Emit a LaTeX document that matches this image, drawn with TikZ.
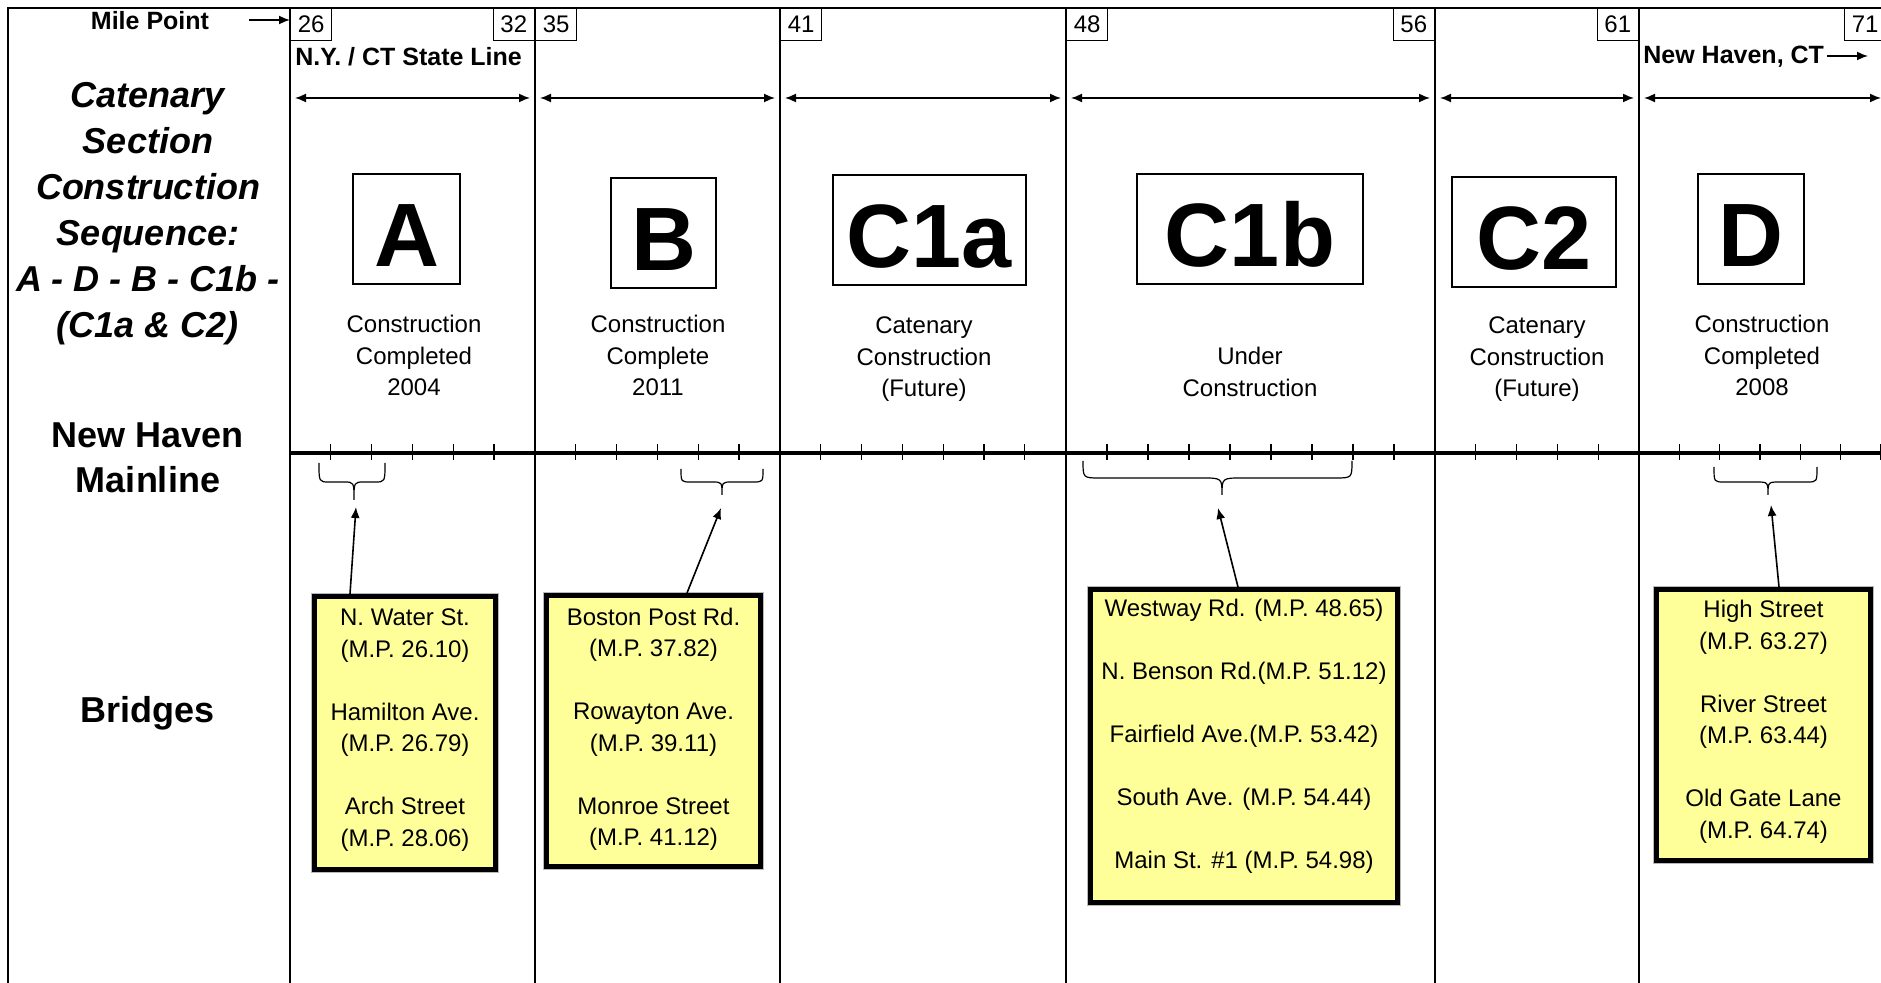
\documentclass[tikz,border=0pt]{standalone}
\usepackage{fontspec}
\setmainfont{Liberation Sans}
\usetikzlibrary{arrows.meta}
\definecolor{bridgeyellow}{RGB}{255,255,153}
\tikzset{
  frame/.style={line width=1pt},
  mpbox/.style={draw, line width=0.7pt, minimum width=20.5pt, minimum height=16pt, inner sep=0pt, font=\fontsize{12}{14}\selectfont},
  boldlbl/.style={inner sep=0pt, font=\fontsize{12.5}{15}\selectfont\bfseries},
  sidettl/.style={align=center, inner sep=0pt, font=\fontsize{18}{23}\selectfont\bfseries},
  secbox/.style={draw, line width=0.6pt, minimum height=55pt, inner sep=0pt, text height=38pt, text depth=0pt,
    font=\fontsize{45}{45}\selectfont\bfseries},
  status/.style={align=center, inner sep=0pt, font=\fontsize{12}{15.75}\selectfont},
  bridgebox/.style={draw, fill=bridgeyellow, line width=2.4pt, align=center, inner sep=0pt,
    font=\fontsize{12}{15.75}\selectfont, preaction={draw=gray!55, line width=3.6pt}},
  dimarrow/.style={{Latex[length=5.5pt,width=4.5pt]}-{Latex[length=5.5pt,width=4.5pt]}, line width=0.8pt, shorten <=2.5pt, shorten >=2.5pt},
  ptr/.style={-{Latex[length=5.5pt,width=4.5pt]}, line width=0.8pt},
  tick/.style={line width=0.6pt},
  brace/.style={line width=0.6pt},
}
\begin{document}
\begin{tikzpicture}[x=0.5pt, y=-0.5pt]
    \useasboundingbox (0,0) rectangle (1881,983);

    % Frame and section lines
    \draw[frame] (8,983) -- (8,8) -- (1881,8);
    \foreach \x in {290,535,780,1066,1435,1639}
        \draw[frame] (\x,8) -- (\x,983);

    % Mile point boxes
    \node[mpbox, anchor=north west] (mp26) at (290,8) {26};
    \node[mpbox, anchor=north east] (mp32) at (535,8) {32};
    \node[mpbox, anchor=north west] (mp35) at (535,8) {35};
    \node[mpbox, anchor=north west] (mp41) at (780,8) {41};
    \node[mpbox, anchor=north west] (mp48) at (1066,8) {48};
    \node[mpbox, anchor=north east] (mp56) at (1435,8) {56};
    \node[mpbox, anchor=north east] (mp61) at (1639,8) {61};
    \node[mpbox, anchor=north west] (mp71) at (1844,8) {71};

    % Top labels
    \node[boldlbl] (mpl) at (150,21) {Mile Point};
    \coordinate (mpa) at (249,20);
    \draw[ptr] (mpa) -- (mpa -| mp26.west);
    \node[boldlbl, anchor=west] (nyct) at (295,57) {N.Y. / CT State Line};
    \node[boldlbl, anchor=west] (nhct) at (1643,57) {New Haven, CT};
    \coordinate (nhend) at (1868,56);
    \draw[ptr, shorten <=1.5pt] (nhct.east |- nhend) -- (nhend);

    % Section extents
    \coordinate (d0) at (290,98);
    \coordinate (d1) at (535,98);
    \coordinate (d2) at (780,98);
    \coordinate (d3) at (1066,98);
    \coordinate (d4) at (1435,98);
    \coordinate (d5) at (1639,98);
    \coordinate (d6) at (1886,98);
    \foreach \a/\b in {d0/d1, d1/d2, d2/d3, d3/d4, d4/d5, d5/d6}
        \draw[dimarrow] (\a) -- (\b);

    % Left column
    \node[sidettl, font=\fontsize{18}{23}\selectfont\bfseries\itshape] (seqttl) at (148,214)
        {Catenary\\Section\\Construction\\Sequence:\\A - D - B - C1b -\\(C1a \& C2)};
    \node[sidettl, font=\fontsize{18}{22.5}\selectfont\bfseries] (mainttl) at (148,458) {New Haven\\Mainline};
    \node[sidettl] (bridgettl) at (148,713) {Bridges};

    % Section letters
    \node[secbox, minimum width=53.5pt] (secA) at (406.5,229) {A};
    \node[secbox, minimum width=52.5pt] (secB) at (663.5,233) {B};
    \node[secbox, minimum width=96.5pt] (secCa) at (929.5,230) {C1a};
    \node[secbox, minimum width=113pt] (secCb) at (1250,229) {C1b};
    \node[secbox, minimum width=82pt] (secCc) at (1534,232) {C2};
    \node[secbox, minimum width=53pt] (secD) at (1751,229) {D};

    % Status
    \node[status] (stA) at (414,355.5) {Construction\\Completed\\2004};
    \node[status] (stB) at (658,355.5) {Construction\\Complete\\2011};
    \node[status] (stCa) at (924,359.5) {Catenary\\Construction\\(Future)};
    \node[status] (stCb) at (1250,372) {Under\\Construction};
    \node[status] (stCc) at (1537,359.5) {Catenary\\Construction\\(Future)};
    \node[status] (stD) at (1762,355.5) {Construction\\Completed\\2008};

    % Mainline with mile ticks
    \draw[line width=1.6pt] (290,453) -- (1881,453);
    \foreach \x in {535,780,1066,1435,1639}
        \draw[line width=1.4pt] (\x,446) -- (\x,460);
    \foreach \s/\n/\d in {290/5/40.8, 535/5/40.8, 780/6/40.8, 1066/8/41, 1435/4/40.8, 1639/6/40.3}
        \foreach \k in {1,...,\n}
            \draw[tick] ({\s+\k*\d},444) -- ++(0,16);

    % Braces
    \draw[brace] (319,463) .. controls (319,482) .. (329,482) -- (344,482) .. controls (354,482) .. (354,500)
        .. controls (354,482) .. (364,482) -- (375,482) .. controls (385,482) .. (385,463);
    \draw[brace] (681,469) .. controls (681,482) .. (691,482) -- (712,482) .. controls (722,482) .. (722,495)
        .. controls (722,482) .. (732,482) -- (753,482) .. controls (763,482) .. (763,469);
    \draw[brace] (1083,461) .. controls (1083,478) .. (1100,478) -- (1202,478) .. controls (1222,478) .. (1222,495)
        .. controls (1222,478) .. (1242,478) -- (1335,478) .. controls (1352,478) .. (1352,461);
    \draw[brace] (1714,467) .. controls (1714,482) .. (1724,482) -- (1756,482) .. controls (1768,482) .. (1768,495)
        .. controls (1768,482) .. (1780,482) -- (1807,482) .. controls (1817,482) .. (1817,467);

    % Bridges
    \node[bridgebox, minimum width=90.6pt, minimum height=136.6pt] (brA) at (405,733)
        {N. Water St.\\(M.P. 26.10)\\[15.75pt]Hamilton Ave.\\(M.P. 26.79)\\[15.75pt]Arch Street\\(M.P. 28.06)\\[-10.25pt]\mbox{}};
    \node[bridgebox, minimum width=107.1pt, minimum height=135.6pt] (brB) at (653.5,731)
        {Boston Post Rd.\\(M.P. 37.82)\\[15.75pt]Rowayton Ave.\\(M.P. 39.11)\\[15.75pt]Monroe Street\\(M.P. 41.12)\\[-11.5pt]\mbox{}};
    \node[bridgebox, minimum width=153.6pt, minimum height=156.6pt] (brCb) at (1244,746)
        {Westway Rd. (M.P. 48.65)\\[15.75pt]N. Benson Rd.(M.P. 51.12)\\[15.75pt]Fairfield Ave.(M.P. 53.42)\\[15.75pt]South Ave. (M.P. 54.44)\\[15.75pt]Main St. \#1 (M.P. 54.98)\\[-3.25pt]\mbox{}};
    \node[bridgebox, minimum width=107.1pt, minimum height=135.6pt] (brD) at (1763.5,725)
        {High Street\\(M.P. 63.27)\\[15.75pt]River Street\\(M.P. 63.44)\\[15.75pt]Old Gate Lane\\(M.P. 64.74)\\[-10.25pt]\mbox{}};

    % Pointers to braces
    \coordinate (tipA) at (356,507);
    \coordinate (tipB) at (721,508);
    \coordinate (tipCb) at (1218,508);
    \coordinate (tipD) at (1771,505);
    \draw[ptr] ([xshift=19pt]brA.north west) -- (tipA);
    \draw[ptr] ([xshift=71.5pt]brB.north west) -- (tipB);
    \draw[ptr] ([xshift=75pt]brCb.north west) -- (tipCb);
    \draw[ptr] ([xshift=62.5pt]brD.north west) -- (tipD);
\end{tikzpicture}
\end{document}
